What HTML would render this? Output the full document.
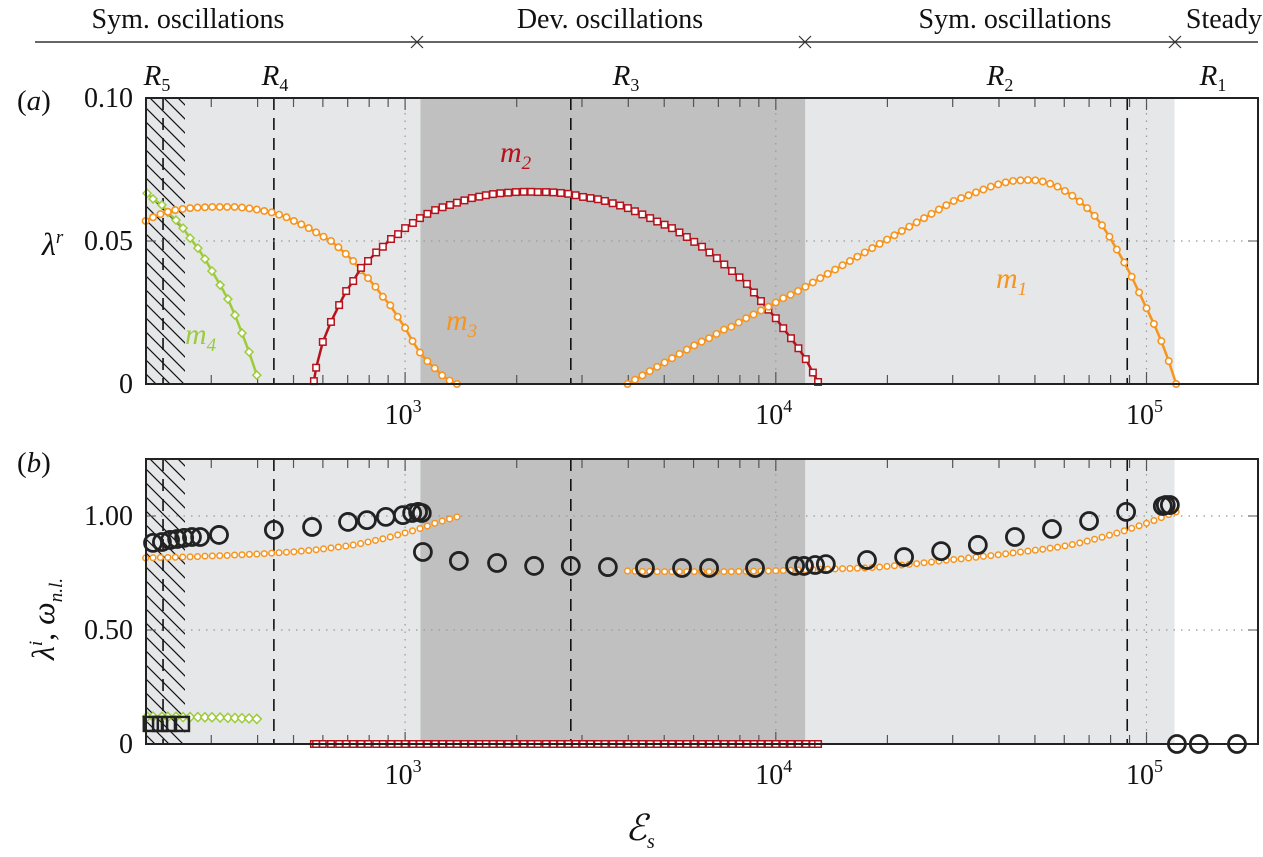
<!DOCTYPE html>
<html><head><meta charset="utf-8"><style>
html,body{margin:0;padding:0;background:#fff;}
svg{display:block;font-family:"Liberation Serif",serif;}
</style></head><body>
<svg id="fig" width="1263" height="857" viewBox="0 0 1263 857" xmlns="http://www.w3.org/2000/svg"></svg>
<script>
// ---------- data ----------
const m1Lg=[3.60,3.62,3.64,3.66,3.68,3.70,3.72,3.74,3.76,3.78,3.80,3.82,3.84,3.86,3.88,3.90,3.92,3.94,3.96,3.98,4.00,4.02,4.04,4.06,4.08,4.10,4.12,4.14,4.16,4.18,4.20,4.22,4.24,4.26,4.28,4.30,4.32,4.34,4.36,4.38,4.40,4.42,4.44,4.46,4.48,4.50,4.52,4.54,4.56,4.58,4.60,4.62,4.64,4.66,4.68,4.70,4.72,4.74,4.76,4.78,4.80,4.82,4.84,4.86,4.88,4.90,4.92,4.94,4.96,4.98,5.00,5.02,5.04,5.06,5.08];
const m1Re=[0,0.0015,0.003,0.0045,0.006,0.0075,0.009,0.0105,0.012,0.0135,0.0148,0.016,0.0175,0.019,0.020,0.0215,0.023,0.0243,0.0257,0.027,0.0285,0.030,0.0312,0.0325,0.034,0.0355,0.037,0.0385,0.040,0.0415,0.043,0.0445,0.046,0.0475,0.049,0.0505,0.052,0.0535,0.055,0.0565,0.058,0.0595,0.061,0.0625,0.064,0.065,0.066,0.067,0.068,0.069,0.0698,0.0705,0.0710,0.0712,0.0713,0.0712,0.0708,0.0700,0.0690,0.0675,0.0658,0.0638,0.0615,0.0588,0.0555,0.0515,0.047,0.0425,0.0375,0.032,0.0265,0.021,0.015,0.008,0];
const m1Im=[.759,.758,.757,.757,.756,.756,.756,.756,.756,.756,.756,.756,.756,.756,.756,.757,.757,.758,.758,.759,.760,.761,.762,.763,.764,.765,.766,.767,.768,.769,.770,.771,.772,.774,.776,.779,.782,.785,.788,.791,.795,.798,.802,.806,.809,.812,.816,.819,.823,.826,.830,.834,.838,.842,.846,.850,.854,.859,.863,.869,.875,.882,.890,.898,.907,.916,.925,.935,.946,.957,.968,.980,.993,1.006,1.018];
const m2Lg=[2.754,2.760,2.778,2.800,2.822,2.841,2.860,2.881,2.900,2.922,2.940,2.962,2.981,3.000,3.021,3.040,3.060,3.081,3.101,3.121,3.140,3.160,3.180,3.200,3.218,3.237,3.257,3.278,3.299,3.320,3.340,3.358,3.380,3.400,3.420,3.440,3.460,3.480,3.500,3.520,3.539,3.560,3.580,3.601,3.620,3.640,3.661,3.680,3.700,3.720,3.740,3.760,3.780,3.801,3.821,3.841,3.861,3.882,3.902,3.922,3.941,3.960,3.980,4.000,4.020,4.041,4.061,4.081,4.100,4.114];
const m2Re=[0.001,0.0057,0.0147,0.0217,0.0276,0.0325,0.036,0.0406,0.043,0.046,0.048,0.0507,0.0524,0.0545,0.0563,0.058,0.0595,0.0608,0.0618,0.0626,0.0634,0.0642,0.065,0.0655,0.066,0.0664,0.0667,0.0669,0.0671,0.0672,0.0672,0.0671,0.0671,0.0670,0.0668,0.0665,0.066,0.0654,0.065,0.0646,0.064,0.0632,0.0624,0.0615,0.0604,0.0593,0.058,0.0568,0.0557,0.0545,0.053,0.0514,0.0497,0.048,0.046,0.044,0.0418,0.0395,0.0373,0.035,0.032,0.029,0.026,0.023,0.0195,0.016,0.0125,0.0087,0.004,0.0007];
const m3Lg=[2.30,2.32,2.34,2.36,2.38,2.40,2.42,2.44,2.46,2.48,2.50,2.52,2.54,2.56,2.58,2.60,2.62,2.64,2.66,2.68,2.70,2.72,2.74,2.76,2.78,2.80,2.82,2.84,2.86,2.88,2.90,2.92,2.94,2.96,2.98,3.00,3.02,3.04,3.06,3.08,3.10,3.12,3.14];
const m3Re=[0.0570,0.0583,0.0594,0.0602,0.0608,0.0612,0.0615,0.0617,0.0618,0.0619,0.0619,0.0619,0.0619,0.0617,0.0614,0.0610,0.0605,0.0600,0.0592,0.0583,0.0570,0.0558,0.0545,0.0530,0.0515,0.0500,0.0478,0.0455,0.0430,0.0398,0.0370,0.0340,0.0305,0.0275,0.0235,0.0196,0.0150,0.0110,0.0080,0.0055,0.0030,0.0012,0];
const m3Im=[.816,.817,.818,.818,.819,.820,.821,.822,.824,.825,.826,.827,.829,.830,.832,.833,.835,.837,.839,.841,.843,.846,.849,.852,.856,.860,.864,.868,.873,.879,.886,.893,.900,.908,.917,.926,.935,.945,.956,.968,.978,.987,.996];
const m4Lg=[2.304,2.320,2.344,2.360,2.382,2.401,2.420,2.441,2.460,2.479,2.501,2.522,2.541,2.560,2.579,2.600];
const m4Re=[0.0667,0.0647,0.0626,0.060,0.0573,0.0545,0.051,0.0475,0.0437,0.0395,0.0346,0.0297,0.0241,0.0178,0.0112,0.0031];
const m4Im=[.120,.120,.119,.119,.119,.118,.118,.118,.117,.117,.116,.115,.114,.113,.112,.110];
const nlLg=[2.320,2.344,2.366,2.385,2.404,2.425,2.447,2.498,2.646,2.749,2.846,2.897,2.948,2.994,3.019,3.035,3.045,3.048,3.145,3.248,3.348,3.447,3.547,3.647,3.747,3.820,3.944,4.052,4.076,4.106,4.135,4.246,4.346,4.446,4.545,4.645,4.745,4.845,4.945,5.044,5.052,5.063,5.082,5.141,5.244];
const nlFreq=[0.882,0.886,0.895,0.899,0.904,0.908,0.908,0.917,0.939,0.952,0.974,0.982,0.996,1.004,1.013,1.018,1.013,0.842,0.803,0.794,0.781,0.781,0.776,0.772,0.772,0.772,0.772,0.781,0.781,0.785,0.789,0.807,0.82,0.846,0.873,0.908,0.943,0.978,1.018,1.044,1.048,1.048,0,0,0];
const sqLg=[2.314,2.339,2.363,2.398];
const sqFreq=[0.088,0.088,0.088,0.088];
const regimeLg=[2.347,2.646,3.447,4.948];
const xTickLabels=["3","4","5"];
const yTicksA=[0,0.05,0.10];
const yTickLabelsA=["0","0.05","0.10"];
const yTicksB=[0,0.5,1.0];
const yTickLabelsB=["0","0.50","1.00"];

// ---------- axes ----------
const L=146,R=1258,LG0=Math.log10(200),DEC=370.7;
const X=lg=>L+(lg-LG0)*DEC;
const A_T=98,A_B=384,B_T=459,B_B=744;
const YA=v=>A_B-v*(A_B-A_T)/0.1;
const YB=v=>B_B-v*(B_B-B_T)/1.25;
const NS="http://www.w3.org/2000/svg";
const svg=document.getElementById('fig');
function mk(tag,at,parent){const e=document.createElementNS(NS,tag);for(const k in at)e.setAttribute(k,at[k]);(parent||svg).appendChild(e);return e;}

function panel(T,B,id){
  const g=mk('g',{});
  
  
  const c=mk('clipPath',{id:'clip'+id},g);mk('rect',{x:L,y:T,width:R-L,height:B-T},c);
  const bg=mk('rect',{x:L,y:T,width:X(Math.log10(1.19e5))-L,height:B-T,fill:'#e6e7e9'},g);
  
  const dk=mk('rect',{x:X(Math.log10(1100)),y:T,width:X(Math.log10(1.2e4))-X(Math.log10(1100)),height:B-T,fill:'#c0c0c0'},g);
  
  const hg=mk('g',{'clip-path':'url(#clip'+id+')'},g);
  
  const hc=mk('clipPath',{id:'hclip'+id},g);mk('rect',{x:L,y:T,width:39,height:B-T},hc);
  const hh=mk('g',{'clip-path':'url(#hclip'+id+')'},hg);
  for(let y=T-60;y<B+20;y+=14){mk('line',{x1:L,y1:y,x2:L+60,y2:y+60,stroke:'#111','stroke-width':1.2},hh);}
  for(const d of [3,4,5]) mk('line',{x1:X(d),y1:T,x2:X(d),y2:B,stroke:'#999','stroke-width':1.2,'stroke-dasharray':'1.5 6'},g);
  for(const lg of regimeLg){const l=mk('line',{x1:X(lg),y1:T,x2:X(lg),y2:B,stroke:'#111','stroke-width':1.6,'stroke-dasharray':'12 8'},g);
    }
  for(let d=2;d<=5;d++)for(let m=1;m<=9;m++){const lg=d+Math.log10(m);if(lg<LG0-1e-6||X(lg)>R)continue;
    const len=m===1?12:9;
    mk('line',{x1:X(lg),y1:T,x2:X(lg),y2:T+len,stroke:'#555','stroke-width':1.2},g);
    mk('line',{x1:X(lg),y1:B,x2:X(lg),y2:B-len,stroke:'#555','stroke-width':1.2},g);}
  return g;
}
const ga=panel(A_T,A_B,'a'), gb=panel(B_T,B_B,'b');
for(const v of [0.05]) mk('line',{x1:L,y1:YA(v),x2:R,y2:YA(v),stroke:'#999','stroke-width':1.2,'stroke-dasharray':'1.5 6'},ga);
for(const v of [0.5,1.0]) mk('line',{x1:L,y1:YB(v),x2:R,y2:YB(v),stroke:'#999','stroke-width':1.2,'stroke-dasharray':'1.5 6'},gb);
for(const v of yTicksA){mk('line',{x1:L,y1:YA(v),x2:L+10,y2:YA(v),stroke:'#555'},ga);mk('line',{x1:R,y1:YA(v),x2:R-10,y2:YA(v),stroke:'#555'},ga);}
for(const v of yTicksB){mk('line',{x1:L,y1:YB(v),x2:L+10,y2:YB(v),stroke:'#555'},gb);mk('line',{x1:R,y1:YB(v),x2:R-10,y2:YB(v),stroke:'#555'},gb);}

const OR='#f7941d',RED='#b5121b',GR='#9ccb3b';
function polyline(g,lgs,vals,Y,color,w,name){
  const p=mk('polyline',{points:lgs.map((l,i)=>X(l)+','+Y(vals[i])).join(' '),fill:'none',stroke:color,'stroke-width':w},g);
  }
function circles(g,lgs,vals,Y,color,r,sw,fill,name){
  lgs.forEach((l,i)=>{const c=mk('circle',{cx:X(l),cy:Y(vals[i]),r:r,fill:fill,stroke:color,'stroke-width':sw},g);
    });}
function squares(g,lgs,vals,Y,color,s,sw,fill,name){
  lgs.forEach((l,i)=>{const c=mk('rect',{x:X(l)-s/2,y:Y(vals[i])-s/2,width:s,height:s,fill:fill,stroke:color,'stroke-width':sw},g);
    });}
function diamonds(g,lgs,vals,Y,color,s,name){
  lgs.forEach((l,i)=>{const x=X(l),y=Y(vals[i]);const c=mk('polygon',{points:`${x},${y-s} ${x+s},${y} ${x},${y+s} ${x-s},${y}`,fill:'#fff',stroke:color,'stroke-width':1.5},g);
    });}

polyline(ga,m4Lg,m4Re,YA,GR,2.5,'m4-growth-line');diamonds(ga,m4Lg,m4Re,YA,GR,4,'m4-growth-point');
polyline(ga,m3Lg,m3Re,YA,OR,2.5,'m3-growth-line');circles(ga,m3Lg,m3Re,YA,OR,3.2,1.6,'#fff','m3-growth-point');
polyline(ga,m2Lg,m2Re,YA,RED,2.5,'m2-growth-line');squares(ga,m2Lg,m2Re,YA,RED,6.5,1.5,'#fff','m2-growth-point');
polyline(ga,m1Lg,m1Re,YA,OR,2.5,'m1-growth-line');circles(ga,m1Lg,m1Re,YA,OR,3.2,1.6,'#fff','m1-growth-point');
diamonds(gb,m4Lg,m4Im,YB,GR,4.5,'m4-frequency-point');
circles(gb,m3Lg,m3Im,YB,OR,2.8,1.5,'#fff','m3-frequency-point');
circles(gb,m1Lg,m1Im,YB,OR,2.8,1.5,'#fff','m1-frequency-point');
squares(gb,m2Lg,m2Lg.map(()=>0),YB,RED,6.5,1.5,'#fff','m2-frequency-point');
squares(gb,sqLg,sqFreq,YB,'#222',14,2.5,'none','nonlinear-square-point');
circles(gb,nlLg,nlFreq,YB,'#222',8.5,2.8,'none','nonlinear-frequency-point');

for(const [T,B,n] of [[A_T,A_B,'a'],[B_T,B_B,'b']]){const f=mk('rect',{x:L,y:T,width:R-L,height:B-T,fill:'none',stroke:'#222','stroke-width':2});
  }

function txt(x,y,s,at,name){const t=mk('text',Object.assign({x:x,y:y,'font-size':28,fill:'#111'},at||{}));t.innerHTML=s;
  return t;}
yTicksA.forEach((v,i)=>txt(133,YA(v)+9,yTickLabelsA[i],{'text-anchor':'end'},'y-tick-label-a'));
yTicksB.forEach((v,i)=>txt(133,YB(v)+9,yTickLabelsB[i],{'text-anchor':'end'},'y-tick-label-b'));
[3,4,5].forEach((d,i)=>{
  txt(X(d)-2,A_B+40,'10<tspan font-size="18" dy="-12">'+xTickLabels[i]+'</tspan>',{'text-anchor':'middle'},'x-tick-label-a');
  txt(X(d)-2,B_B+40,'10<tspan font-size="18" dy="-12">'+xTickLabels[i]+'</tspan>',{'text-anchor':'middle'},'x-tick-label-b');});
txt(17,110,'(<tspan font-style="italic">a</tspan>)',{'font-size':29},'panel-a-label');
txt(17,472,'(<tspan font-style="italic">b</tspan>)',{'font-size':29},'panel-b-label');
txt(42,255,'<tspan font-style="italic">λ</tspan><tspan font-style="italic" font-size="19" dy="-12">r</tspan>',{'font-size':32},'y-axis-title-a');
txt(0,0,'<tspan font-style="italic">λ</tspan><tspan font-style="italic" font-size="19" dy="-12">i</tspan><tspan dy="12">, </tspan><tspan font-style="italic">ω</tspan><tspan font-style="italic" font-size="19" dy="8">n.l.</tspan>',{'font-size':32,transform:'translate(54,660) rotate(-90)'},'y-axis-title-b');
txt(640,840,'ℰ<tspan font-style="italic" font-size="20" dy="8">s</tspan>',{'font-size':36,'text-anchor':'middle','font-style':'italic'},'x-axis-title');
txt(500,162,'m<tspan font-size="19" dy="7">2</tspan>',{'font-size':30,'font-style':'italic',fill:RED},'m2-label');
txt(446,330,'m<tspan font-size="19" dy="7">3</tspan>',{'font-size':30,'font-style':'italic',fill:OR},'m3-label');
txt(996,288,'m<tspan font-size="19" dy="7">1</tspan>',{'font-size':30,'font-style':'italic',fill:OR},'m1-label');
txt(185,344,'m<tspan font-size="19" dy="7">4</tspan>',{'font-size':30,'font-style':'italic',fill:GR},'m4-label');
[[157,'5'],[275,'4'],[626,'3'],[1000,'2'],[1213,'1']].forEach(([x,s])=>txt(x,85,'<tspan font-style="italic">R</tspan><tspan font-size="18" dy="6">'+s+'</tspan>',{'font-size':29,'text-anchor':'middle'},'regime-label-R'+s));
const ln=mk('line',{x1:35,y1:42,x2:1258,y2:42,stroke:'#333','stroke-width':1.5});

for(const x of [417,805,1175]){const g=mk('g',{stroke:'#333','stroke-width':1.2,fill:'none'});
  
  mk('path',{d:`M${x-6},${36} L${x},${42} L${x-6},${48} M${x+6},${36} L${x},${42} L${x+6},${48}`},g);}
txt(188,28,'Sym. oscillations',{'text-anchor':'middle','font-size':28},'regime-sym-oscillations-left');
txt(610,28,'Dev. oscillations',{'text-anchor':'middle','font-size':28},'regime-dev-oscillations');
txt(1015,28,'Sym. oscillations',{'text-anchor':'middle','font-size':28},'regime-sym-oscillations-right');
txt(1224,28,'Steady',{'text-anchor':'middle','font-size':28},'regime-steady');
</script>
</body></html>
